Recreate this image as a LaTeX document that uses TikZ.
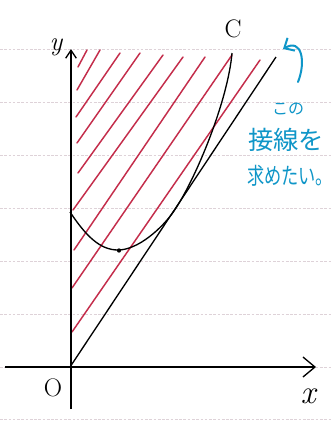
\documentclass[tikz,border=0pt]{standalone}
\usepackage{fontspec}
\newfontfamily\jpfont{Noto Sans CJK JP}
\usetikzlibrary{arrows.meta}
\definecolor{hatchred}{RGB}{196,45,75}
\definecolor{penblue}{RGB}{15,150,200}
\definecolor{ruled}{RGB}{222,210,216}
\begin{document}
\begin{tikzpicture}[x=0.75pt,y=-0.75pt,
  ruleline/.style={ruled, line width=0.6pt, dash pattern=on 2pt off 1.2pt},
  hatch/.style={hatchred, line width=1.1pt, line cap=round},
  curvepen/.style={black, line width=1pt},
  axispen/.style={black, line width=1pt},
  bluepen/.style={penblue, line width=1.5pt, line cap=round},
  bluetext/.style={text=penblue, inner sep=0pt},
  lab/.style={inner sep=0pt, text=black}]
\useasboundingbox (0,0) rectangle (331,425);
\fill[white] (0,0) rectangle (331,425);
% notebook ruling
\foreach \yy in {49,102,155,208,261,314,367,419}
  \draw[ruleline] (0,\yy) -- (331,\yy);
% hatching
\foreach \bx/\by/\tx/\ty in {78/67/87/50, 77/90/100/50, 76/117/120/53, 77/143/140/53,
  78/173/163/55, 73/210/183/57, 74/250/205/57, 72/288/232/55, 72/332/260/60}
  \draw[hatch] (\bx,\by) -- (\tx,\ty);
% coordinates
\coordinate (O) at (70,367);
\coordinate (Lend) at (276,57);
\coordinate (Cstart) at (70,212);
\coordinate (Cmin) at (118,250);
\coordinate (T) at (174.7,210);
\coordinate (Ctop) at (232,53);
% curve
\draw[curvepen] (Cstart) .. controls (86,236) and (100,250) .. (Cmin)
  .. controls (138,250) and (162.7,228) .. (T)
  .. controls (196.7,177) and (228,100) .. (Ctop);
\fill (119,250.5) circle[radius=1.6pt];
% tangent line
\draw[curvepen] (O) -- (Lend);
% axes
\coordinate (xa) at (5,367);
\coordinate (xb) at (316,367);
\coordinate (ya) at (71,409);
\coordinate (yb) at (71,49);
\draw[axispen,-{Straight Barb[length=9pt,width=15pt]}] (xa) -- (xb);
\draw[axispen,-{Straight Barb[length=6pt,width=8pt]}] (ya) -- (yb);
% labels
\node[lab] (ylab) at (56,47) {\fontsize{20}{20}\selectfont\itshape y};
\node[lab] (xlab) at (308,396) {\fontsize{25}{25}\selectfont\itshape x};
\node[lab] (olab) at (53,388) {\fontsize{19}{19}\selectfont O};
\node[lab] (clab) at (233,29) {\fontsize{19}{19}\selectfont C};
% blue note
\node[bluetext] (kono) at (288,109) {\jpfont\fontsize{12}{12}\selectfont この};
\node[bluetext] (sessen) at (286,140) {\jpfont\fontsize{19}{19}\selectfont 接線を};
\node[bluetext] (motome) at (290,176) {\jpfont\fontsize{15}{15}\selectfont\scalebox{0.86}[1.15]{求めたい。}};
\coordinate (ba) at (298,82);
\coordinate (bb) at (283,49);
\draw[bluepen,-{Straight Barb[length=6pt,width=11pt]}] (ba) .. controls (306,62) and (302,38) .. (bb);
\end{tikzpicture}
\end{document}
